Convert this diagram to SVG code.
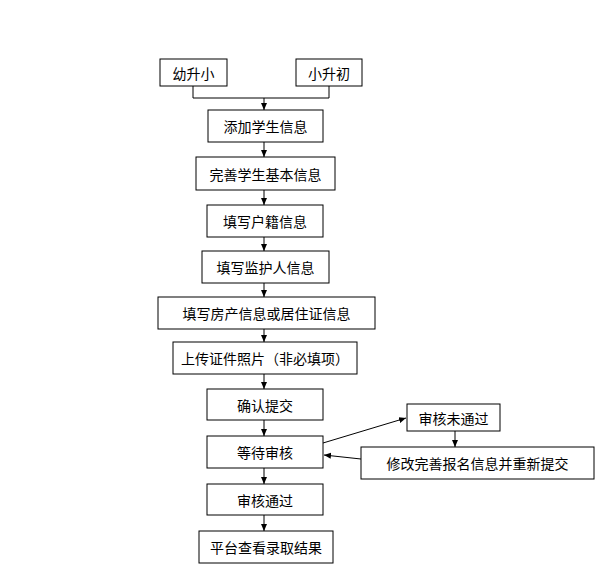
<svg xmlns="http://www.w3.org/2000/svg" width="608" height="574" viewBox="0 0 608 574">
<style>
.b{fill:#fff;stroke:#000;stroke-width:1}
.t{font-family:"Noto Sans CJK SC",sans-serif;font-size:14px;text-anchor:middle;dominant-baseline:central;fill:#000}
.c{stroke:#000;stroke-width:1;fill:none}
</style>
<defs><marker id="a" markerWidth="8" markerHeight="8" refX="7" refY="4" orient="auto" markerUnits="userSpaceOnUse"><path d="M0,1 L7,4 L0,7z" fill="#000"/></marker></defs>
<rect width="608" height="574" fill="#fff"/>
<g id="connectors">
<path class="c" d="M193,86 V98 H329 V86"/>
<path class="c" d="M264,98 V110" marker-end="url(#a)"/>
<path class="c" d="M264,142 V157" marker-end="url(#a)"/>
<path class="c" d="M264,190 V205" marker-end="url(#a)"/>
<path class="c" d="M264,237 V251" marker-end="url(#a)"/>
<path class="c" d="M264,283 V297" marker-end="url(#a)"/>
<path class="c" d="M264,329 V342" marker-end="url(#a)"/>
<path class="c" d="M264,374 V389" marker-end="url(#a)"/>
<path class="c" d="M264,420 V436" marker-end="url(#a)"/>
<path class="c" d="M264,468 V484" marker-end="url(#a)"/>
<path class="c" d="M264,515 V531" marker-end="url(#a)"/>
<path class="c" d="M323,443 L406,418" marker-end="url(#a)"/>
<path class="c" d="M455,431 V447" marker-end="url(#a)"/>
<path class="c" d="M361,459 L324,455" marker-end="url(#a)"/>
</g>
<g id="n1"><rect class="b" x="160" y="59" width="67" height="27"/><text class="t" x="193.5" y="72.5">幼升小</text></g>
<g id="n2"><rect class="b" x="296" y="59" width="66" height="27"/><text class="t" x="329" y="72.5">小升初</text></g>
<g id="n3"><rect class="b" x="208" y="110" width="115" height="32"/><text class="t" x="265.5" y="126">添加学生信息</text></g>
<g id="n4"><rect class="b" x="196" y="157" width="139" height="33"/><text class="t" x="265.5" y="173.5">完善学生基本信息</text></g>
<g id="n5"><rect class="b" x="207" y="205" width="116" height="32"/><text class="t" x="265" y="221">填写户籍信息</text></g>
<g id="n6"><rect class="b" x="202" y="251" width="127" height="32"/><text class="t" x="265.5" y="267">填写监护人信息</text></g>
<g id="n7"><rect class="b" x="158" y="297" width="217" height="32"/><text class="t" x="266.5" y="313">填写房产信息或居住证信息</text></g>
<g id="n8"><rect class="b" x="173" y="342" width="184" height="32"/><text class="t" x="265" y="358">上传证件照片（非必填项）</text></g>
<g id="n9"><rect class="b" x="207" y="389" width="116" height="31"/><text class="t" x="265" y="404.5">确认提交</text></g>
<g id="n10"><rect class="b" x="207" y="436" width="116" height="32"/><text class="t" x="265" y="452">等待审核</text></g>
<g id="n11"><rect class="b" x="207" y="484" width="116" height="31"/><text class="t" x="265" y="499.5">审核通过</text></g>
<g id="n12"><rect class="b" x="199" y="531" width="134" height="32"/><text class="t" x="266" y="547">平台查看录取结果</text></g>
<g id="n13"><rect class="b" x="407" y="404" width="93" height="27"/><text class="t" x="453.5" y="417.5">审核未通过</text></g>
<g id="n14"><rect class="b" x="361" y="447" width="233" height="32"/><text class="t" x="477.5" y="463">修改完善报名信息并重新提交</text></g>
</svg>
